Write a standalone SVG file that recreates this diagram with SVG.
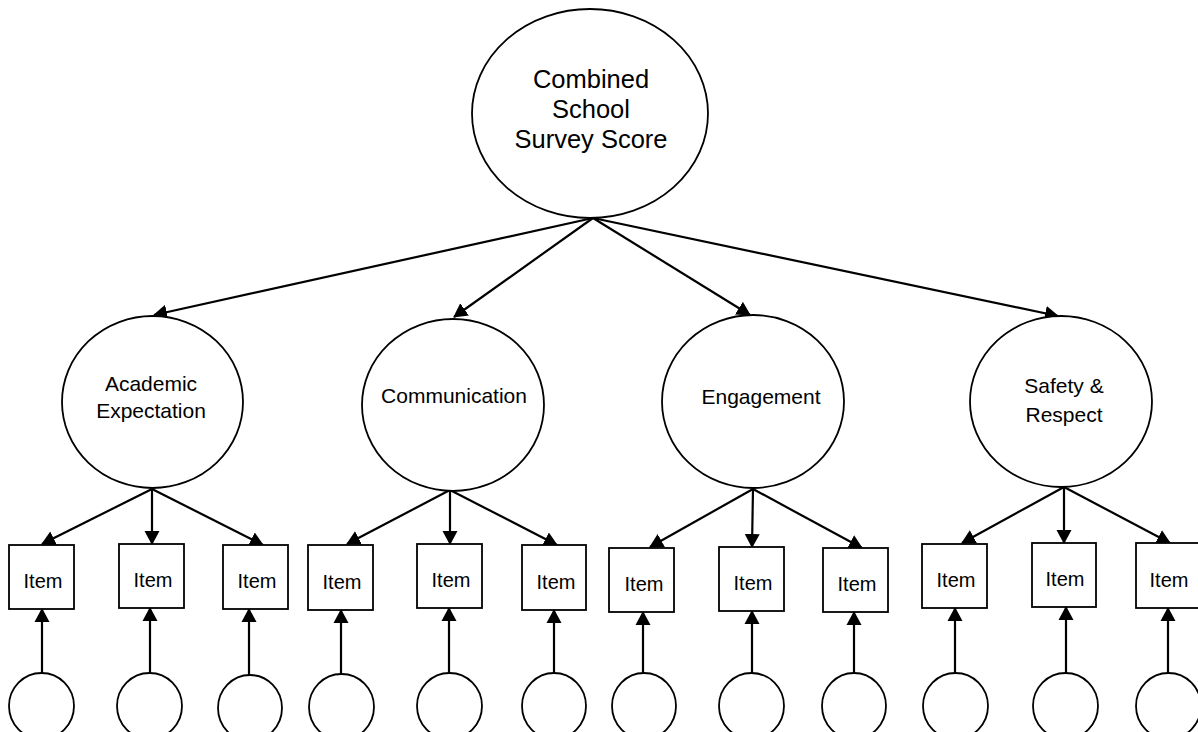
<svg xmlns="http://www.w3.org/2000/svg" width="1198" height="732" viewBox="0 0 1198 732">
<style>
.n{fill:#fff;stroke:#000;stroke-width:1.8}
.t{font-family:"Liberation Sans",Arial,sans-serif;fill:#000;text-anchor:middle}
.c{stroke:#000;stroke-width:2.2;fill:none;marker-end:url(#ah)}
</style>
<defs>
<marker id="ah" markerUnits="userSpaceOnUse" markerWidth="14" markerHeight="16" refX="13" refY="7.5" orient="auto" viewBox="0 0 14 15">
<path d="M0,0 L14,7.5 L0,15 z" fill="#000"/>
</marker>
</defs>
<rect width="1198" height="732" fill="#fff"/>
<g id="connectors">
<line class="c" x1="593" y1="218" x2="154" y2="315"/>
<line class="c" x1="593" y1="218" x2="454" y2="317"/>
<line class="c" x1="593" y1="218" x2="750" y2="315"/>
<line class="c" x1="593" y1="218" x2="1058" y2="316"/>
<line class="c" x1="152" y1="489" x2="42" y2="544"/>
<line class="c" x1="152" y1="489" x2="152" y2="544"/>
<line class="c" x1="152" y1="489" x2="263" y2="545"/>
<line class="c" x1="450" y1="490" x2="347" y2="544"/>
<line class="c" x1="450" y1="490" x2="450" y2="544"/>
<line class="c" x1="450" y1="490" x2="557" y2="545"/>
<line class="c" x1="753" y1="489" x2="650" y2="547"/>
<line class="c" x1="753" y1="489" x2="752" y2="547"/>
<line class="c" x1="753" y1="489" x2="862" y2="548"/>
<line class="c" x1="1064" y1="487" x2="962" y2="543"/>
<line class="c" x1="1064" y1="487" x2="1064" y2="543"/>
<line class="c" x1="1064" y1="487" x2="1170" y2="543"/>
<line class="c" x1="42" y1="673" x2="42" y2="609"/>
<line class="c" x1="150" y1="673" x2="150" y2="608"/>
<line class="c" x1="249" y1="675" x2="249" y2="609"/>
<line class="c" x1="341" y1="674" x2="341" y2="610"/>
<line class="c" x1="449" y1="673" x2="449" y2="608"/>
<line class="c" x1="554" y1="673" x2="554" y2="610"/>
<line class="c" x1="643" y1="673" x2="643" y2="612"/>
<line class="c" x1="752" y1="673" x2="752" y2="611"/>
<line class="c" x1="854" y1="673" x2="854" y2="612"/>
<line class="c" x1="955" y1="673" x2="955" y2="608"/>
<line class="c" x1="1066" y1="673" x2="1066" y2="607"/>
<line class="c" x1="1168" y1="673" x2="1168" y2="608"/>
</g>
<g id="combined">
<ellipse class="n" cx="590" cy="113.5" rx="118" ry="104.5"/>
<text class="t" font-size="25.5" x="591" y="88">Combined</text>
<text class="t" font-size="25.5" x="591" y="118">School</text>
<text class="t" font-size="25.5" x="591" y="148">Survey Score</text>
</g>
<g id="academic">
<ellipse class="n" cx="152.5" cy="402" rx="90.5" ry="86"/>
<text class="t" font-size="21" x="151" y="391">Academic</text>
<text class="t" font-size="21" x="151" y="418">Expectation</text>
</g>
<g id="communication">
<ellipse class="n" cx="453" cy="405" rx="91" ry="86"/>
<text class="t" font-size="21" x="454" y="403">Communication</text>
</g>
<g id="engagement">
<ellipse class="n" cx="753" cy="401.5" rx="91" ry="86.5"/>
<text class="t" font-size="21" x="761" y="404">Engagement</text>
</g>
<g id="safety">
<ellipse class="n" cx="1061" cy="401.5" rx="91" ry="85.5"/>
<text class="t" font-size="21" x="1064" y="393">Safety &amp;</text>
<text class="t" font-size="21" x="1064" y="421.5">Respect</text>
</g>
<g id="item1"><rect class="n" x="9" y="545" width="65" height="64"/><text class="t" font-size="20" x="43" y="588">Item</text></g>
<g id="item2"><rect class="n" x="119" y="544" width="65" height="64"/><text class="t" font-size="20" x="153" y="587">Item</text></g>
<g id="item3"><rect class="n" x="223" y="545" width="65" height="64"/><text class="t" font-size="20" x="257" y="588">Item</text></g>
<g id="item4"><rect class="n" x="308" y="545" width="65" height="65"/><text class="t" font-size="20" x="342" y="589">Item</text></g>
<g id="item5"><rect class="n" x="417" y="544" width="65" height="64"/><text class="t" font-size="20" x="451" y="587">Item</text></g>
<g id="item6"><rect class="n" x="522" y="545" width="64" height="65"/><text class="t" font-size="20" x="556" y="589">Item</text></g>
<g id="item7"><rect class="n" x="609" y="548" width="65" height="64"/><text class="t" font-size="20" x="644" y="591">Item</text></g>
<g id="item8"><rect class="n" x="719" y="547" width="65" height="64"/><text class="t" font-size="20" x="753" y="590">Item</text></g>
<g id="item9"><rect class="n" x="823" y="548" width="65" height="64"/><text class="t" font-size="20" x="857" y="591">Item</text></g>
<g id="item10"><rect class="n" x="922" y="544" width="65" height="64"/><text class="t" font-size="20" x="956" y="587">Item</text></g>
<g id="item11"><rect class="n" x="1032" y="543" width="64" height="64"/><text class="t" font-size="20" x="1065" y="586">Item</text></g>
<g id="item12"><rect class="n" x="1136" y="543" width="65" height="65"/><text class="t" font-size="20" x="1169" y="587">Item</text></g>
<g id="e1"><ellipse class="n" cx="41.5" cy="706" rx="32.5" ry="33"/></g>
<g id="e2"><ellipse class="n" cx="149.5" cy="706" rx="32.5" ry="33"/></g>
<g id="e3"><ellipse class="n" cx="250" cy="708" rx="32" ry="33"/></g>
<g id="e4"><ellipse class="n" cx="341.5" cy="707" rx="32.5" ry="33"/></g>
<g id="e5"><ellipse class="n" cx="449.5" cy="706" rx="32.5" ry="33"/></g>
<g id="e6"><ellipse class="n" cx="554" cy="706" rx="32" ry="33"/></g>
<g id="e7"><ellipse class="n" cx="644" cy="706" rx="32" ry="33"/></g>
<g id="e8"><ellipse class="n" cx="751.5" cy="706" rx="32.5" ry="33"/></g>
<g id="e9"><ellipse class="n" cx="854" cy="706" rx="32" ry="33"/></g>
<g id="e10"><ellipse class="n" cx="955.5" cy="706" rx="32.5" ry="33"/></g>
<g id="e11"><ellipse class="n" cx="1065.5" cy="706" rx="32.5" ry="33"/></g>
<g id="e12"><ellipse class="n" cx="1168.5" cy="706" rx="32.5" ry="33"/></g>
</svg>
